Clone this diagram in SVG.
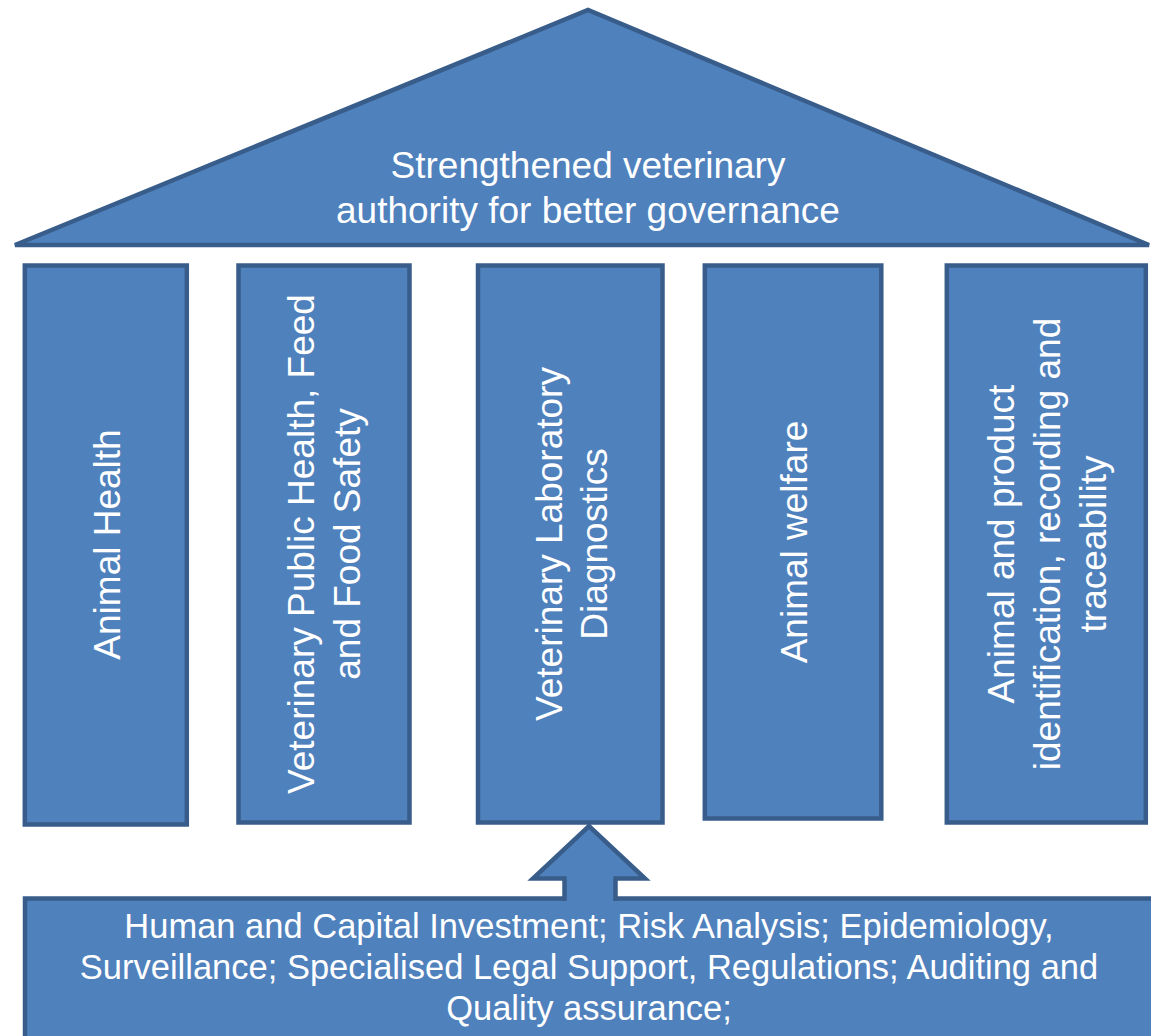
<svg xmlns="http://www.w3.org/2000/svg" width="1151" height="1036" viewBox="0 0 1151 1036">
<style>
.shape{fill:#4F81BD;stroke:#385D8A;stroke-width:4.5}
.t{fill:#FFFFFF;font-family:"Liberation Sans",Arial,sans-serif;text-anchor:middle}
.big{font-size:37px}
.small{font-size:34.5px}
</style>
<rect x="0" y="0" width="1151" height="1036" fill="#FFFFFF"/>
<g id="roof">
<polygon class="shape" points="15,245 588,10 1149,245"/>
<text class="t big" x="588" y="177.5">Strengthened veterinary</text>
<text class="t big" x="588" y="223">authority for better governance</text>
</g>
<g id="pillar-animal-health">
<rect class="shape" x="24.8" y="265.5" width="162" height="559"/>
<text class="t big" transform="translate(105.5,544.5) rotate(-90)" y="14">Animal Health</text>
</g>
<g id="pillar-vph">
<rect class="shape" x="238.5" y="265.5" width="171" height="557"/>
<text class="t big" transform="translate(324,544) rotate(-90)"><tspan x="0" y="-10">Veterinary Public Health, Feed</tspan><tspan x="0" y="35.5">and Food Safety</tspan></text>
</g>
<g id="pillar-lab">
<rect class="shape" x="478" y="265.5" width="184.5" height="557"/>
<text class="t big" transform="translate(570.5,544) rotate(-90)"><tspan x="0" y="-9">Veterinary Laboratory</tspan><tspan x="0" y="36.5">Diagnostics</tspan></text>
</g>
<g id="pillar-welfare">
<rect class="shape" x="704.8" y="265.5" width="176.5" height="553"/>
<text class="t big" transform="translate(793,542) rotate(-90)" y="13.5">Animal welfare</text>
</g>
<g id="pillar-identification">
<rect class="shape" x="946.8" y="265.5" width="199" height="557"/>
<text class="t big" transform="translate(1046.5,544) rotate(-90)"><tspan x="0" y="-33">Animal and product</tspan><tspan x="0" y="13">identification, recording and</tspan><tspan x="0" y="59">traceability</tspan></text>
</g>
<g id="foundation">
<rect class="shape" x="25" y="898.5" width="1140" height="150"/>
<text class="t small" x="589" y="937.5">Human and Capital Investment; Risk Analysis; Epidemiology,</text>
<text class="t small" x="589" y="978.5">Surveillance; Specialised Legal Support, Regulations; Auditing and</text>
<text class="t small" x="589" y="1019.5">Quality assurance;</text>
</g>
<g id="connectors">
<path class="shape" d="M564.5,901 L564.5,878.5 L533,878.5 L589,826 L645,878.5 L615.5,878.5 L615.5,901"/>
</g>
</svg>
